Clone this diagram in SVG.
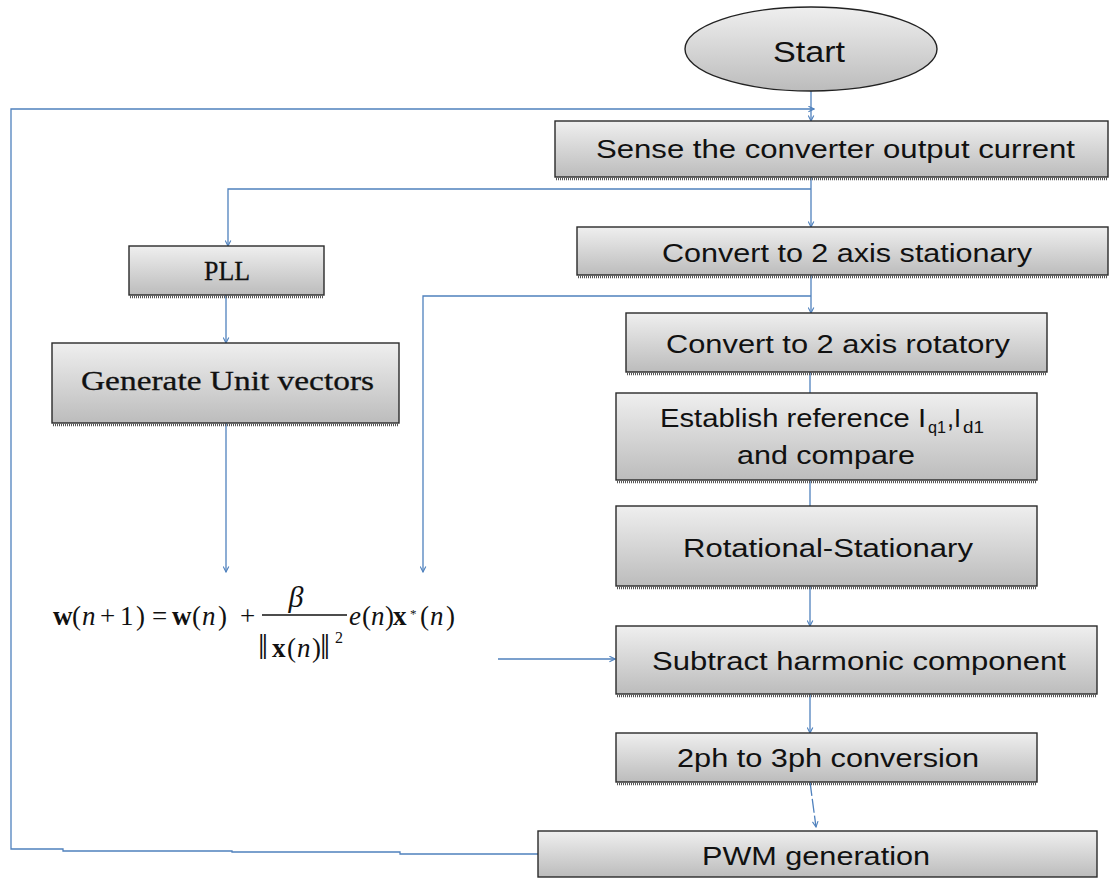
<svg xmlns="http://www.w3.org/2000/svg" width="1110" height="879" viewBox="0 0 1110 879">
<defs>
<linearGradient id="g" x1="0" y1="0" x2="0" y2="1">
<stop offset="0" stop-color="#efefef"/>
<stop offset="1" stop-color="#bcbcbc"/>
</linearGradient>
<marker id="ah" viewBox="0 0 10 10" refX="9" refY="5" markerWidth="7" markerHeight="7" orient="auto" markerUnits="userSpaceOnUse">
<path d="M1,1 L9,5 L1,9" fill="none" stroke="#4f81bd" stroke-width="1.6"/>
</marker>
<style>
.box{fill:url(#g);stroke:#2a2a2a;stroke-width:1.4}
.sh{stroke:#555;stroke-width:2.5;stroke-dasharray:1 1}
.t{font-family:"Liberation Sans",Arial,sans-serif;font-size:25px;fill:#111;text-anchor:start}
.s{font-family:"Liberation Serif","Times New Roman",serif;font-size:28px;fill:#111;stroke:#111;stroke-width:0.3}
.c{fill:none;stroke:#4f81bd;stroke-width:1.3}
.f{font-family:"Liberation Serif","Times New Roman",serif;font-size:27px;fill:#111}
.b{font-weight:bold}
.i{font-style:italic}
</style>
</defs>
<rect width="1110" height="879" fill="#fff"/>

<g id="connectors">
<path class="c" d="M811,91 V121" marker-end="url(#ah)"/>
<path class="c" d="M538,854 H400 V852 H232 V851 H63 V849 H11 V109 H814" marker-end="url(#ah)"/>
<path class="c" d="M811,177 V227" marker-end="url(#ah)"/>
<path class="c" d="M811,189 H228 V246" marker-end="url(#ah)"/>
<path class="c" d="M226,295 V343" marker-end="url(#ah)"/>
<path class="c" d="M226,423 V572" marker-end="url(#ah)"/>
<path class="c" d="M811,275 V313" marker-end="url(#ah)"/>
<path class="c" d="M811,296 H423 V572" marker-end="url(#ah)"/>
<path class="c" d="M810,372 V414" marker-end="url(#ah)"/>
<path class="c" d="M810,480 V536" marker-end="url(#ah)"/>
<path class="c" d="M810,586 V626" marker-end="url(#ah)"/>
<path class="c" d="M498,659 H615" marker-end="url(#ah)"/>
<path class="c" d="M810,694 V733" marker-end="url(#ah)"/>
<path class="c" d="M810,782 L816,827" stroke-dasharray="14 3" marker-end="url(#ah)"/>
</g>

<g id="start">
<ellipse cx="811" cy="49" rx="126" ry="42" fill="url(#g)" stroke="#222" stroke-width="1.4"/>
<text class="t" x="773" y="62" style="font-size:30px" textLength="72" lengthAdjust="spacingAndGlyphs">Start</text>
</g>

<g id="sense">
<rect class="box" x="555" y="121" width="553" height="56"/>
<line class="sh" x1="556" y1="179" x2="1108" y2="179"/>
<text class="t" x="596" y="158" textLength="479" lengthAdjust="spacingAndGlyphs">Sense the converter output current</text>
</g>

<g id="stationary">
<rect class="box" x="577" y="227" width="531" height="48"/>
<line class="sh" x1="578" y1="277" x2="1108" y2="277"/>
<text class="t" x="662" y="262" textLength="370" lengthAdjust="spacingAndGlyphs">Convert to 2 axis stationary</text>
</g>

<g id="rotatory">
<rect class="box" x="626" y="313" width="421" height="59"/>
<line class="sh" x1="627" y1="374" x2="1047" y2="374"/>
<text class="t" x="666" y="353" textLength="344" lengthAdjust="spacingAndGlyphs">Convert to 2 axis rotatory</text>
</g>

<g id="establish">
<rect class="box" x="616" y="393" width="421" height="87"/>
<line class="sh" x1="617" y1="482" x2="1037" y2="482"/>
<text class="t" x="660" y="427" textLength="266" lengthAdjust="spacingAndGlyphs">Establish reference I</text>
<text class="t" x="928" y="433" style="font-size:16px" textLength="18" lengthAdjust="spacingAndGlyphs">q1</text>
<text class="t" x="947" y="427" textLength="14" lengthAdjust="spacingAndGlyphs">,I</text>
<text class="t" x="963" y="433" style="font-size:16px" textLength="21" lengthAdjust="spacingAndGlyphs">d1</text>
<text class="t" x="737" y="464" textLength="178" lengthAdjust="spacingAndGlyphs">and compare</text>
</g>

<g id="rotational">
<rect class="box" x="616" y="506" width="421" height="80"/>
<line class="sh" x1="617" y1="588" x2="1037" y2="588"/>
<text class="t" x="683" y="557" textLength="290" lengthAdjust="spacingAndGlyphs">Rotational-Stationary</text>
</g>

<g id="subtract">
<rect class="box" x="616" y="626" width="481" height="68"/>
<line class="sh" x1="617" y1="696" x2="1097" y2="696"/>
<text class="t" x="652" y="670" textLength="414" lengthAdjust="spacingAndGlyphs">Subtract harmonic component</text>
</g>

<g id="conv23">
<rect class="box" x="616" y="733" width="421" height="49"/>
<line class="sh" x1="617" y1="784" x2="1037" y2="784"/>
<text class="t" x="677" y="767" textLength="302" lengthAdjust="spacingAndGlyphs">2ph to 3ph conversion</text>
</g>

<g id="pwm">
<rect class="box" x="538" y="831" width="559" height="46"/>
<text class="t" x="702" y="865" textLength="228" lengthAdjust="spacingAndGlyphs">PWM generation</text>
</g>

<g id="pll">
<rect class="box" x="129" y="246" width="195" height="49"/>
<line class="sh" x1="130" y1="297" x2="324" y2="297"/>
<text class="s" x="204" y="280" textLength="46" lengthAdjust="spacingAndGlyphs">PLL</text>
</g>

<g id="generate">
<rect class="box" x="52" y="343" width="347" height="80"/>
<line class="sh" x1="53" y1="425" x2="399" y2="425"/>
<text class="s" x="81" y="390" textLength="293" lengthAdjust="spacingAndGlyphs">Generate Unit vectors</text>
</g>

<g id="formula">
<text class="f b" x="53" y="625">w</text>
<text class="f" x="72" y="625">(</text>
<text class="f i" x="82" y="625">n</text>
<text class="f" x="100" y="625">+</text>
<text class="f" x="120" y="625">1</text>
<text class="f" x="136" y="625">)</text>
<text class="f" x="152" y="625">=</text>
<text class="f b" x="172" y="625">w</text>
<text class="f" x="192" y="625">(</text>
<text class="f i" x="202" y="625">n</text>
<text class="f" x="218" y="625">)</text>
<text class="f" x="240" y="625">+</text>
<text class="f i" x="296" y="607" style="font-size:30px" text-anchor="middle">β</text>
<line x1="262" y1="615" x2="347" y2="615" stroke="#111" stroke-width="1.3"/>
<text class="f" x="258" y="659" style="font-size:36px">‖</text>
<text class="f b" x="272" y="657">x</text>
<text class="f" x="287" y="657">(</text>
<text class="f i" x="297" y="657">n</text>
<text class="f" x="312" y="657">)</text>
<text class="f" x="320" y="659" style="font-size:36px">‖</text>
<text class="f" x="335" y="643" style="font-size:16px">2</text>
<text class="f i" x="349" y="625">e</text>
<text class="f" x="362" y="625">(</text>
<text class="f i" x="371" y="625">n</text>
<text class="f" x="385" y="625">)</text>
<text class="f b" x="393" y="625">x</text>
<text class="f" x="410" y="618" style="font-size:13px">*</text>
<text class="f" x="420" y="625">(</text>
<text class="f i" x="430" y="625">n</text>
<text class="f" x="446" y="625">)</text>
</g>
</svg>
